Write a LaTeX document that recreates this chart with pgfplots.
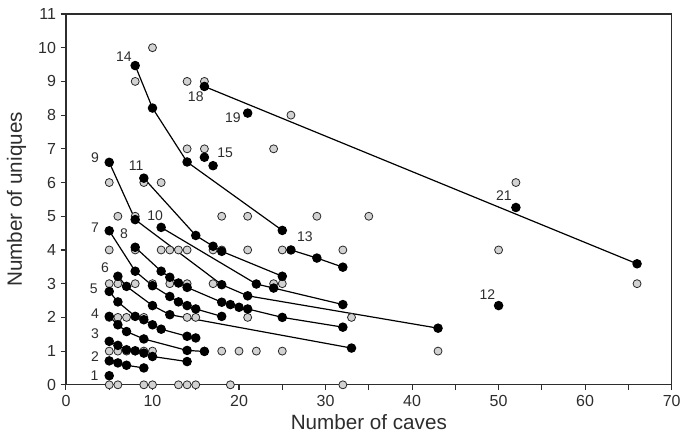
\documentclass[border=0pt]{standalone}
\usepackage{pgfplots}
\pgfplotsset{compat=1.18}
\usepackage{fontspec}
\setmainfont{Liberation Sans}
\definecolor{ptgray}{RGB}{210,210,210}
\definecolor{ptedge}{RGB}{40,40,40}
\definecolor{axgray}{RGB}{45,45,45}
\tikzset{lbl/.style={font=\fontsize{10.5}{10.5}\selectfont, text=axgray}}
\begin{document}
\begin{tikzpicture}
\begin{axis}[
    scale only axis,
    width=454.5pt, height=278.25pt,
    xmin=0, xmax=70, ymin=0, ymax=11,
    xtick={0,10,...,70}, minor xtick={5,15,...,65},
    ytick={0,1,...,11},
    tick align=outside, tick pos=left,
    major tick length=4pt, minor tick length=4pt,
    every tick/.style={axgray, line width=0.8pt},
    axis line style={axgray, line width=1pt},
    ticklabel style={font=\fontsize{12}{12}\selectfont, text=axgray},
    /pgf/number format/assume math mode=true,
    xlabel={Number of caves}, ylabel={Number of uniques},
    label style={font=\fontsize{15.5}{15.5}\selectfont, text=axgray},
    xlabel style={at={(axis description cs:0.5,0)}, anchor=center, yshift=-28pt},
    ylabel style={at={(axis description cs:0,0.5)}, anchor=center, rotate=0, yshift=37pt},
    clip=false,
    curve/.style={black, line width=0.9pt, mark=*, mark size=3.1pt, mark options={fill=black, draw=black}},
]
% grey points
\addplot[only marks, mark=*, mark size=3pt, mark options={fill=ptgray, draw=ptedge, line width=0.6pt}] coordinates {
 (5,0) (6,0) (9,0) (10,0) (13,0) (14,0) (15,0) (19,0) (32,0)
 (5,1) (6,1) (7,1) (8,1) (9,1) (10,1) (16,1) (18,1) (20,1) (22,1) (25,1) (43,1)
 (5,2) (6,2) (7,2) (9,2) (14,2) (15,2) (21,2) (33,2)
 (5,3) (6,3) (8,3) (10,3) (12,3) (14,3) (17,3) (24,3) (25,3) (66,3)
 (5,4) (8,4) (11,4) (12,4) (13,4) (14,4) (17,4) (18,4) (21,4) (25,4) (32,4) (50,4)
 (6,5) (8,5) (18,5) (21,5) (29,5) (35,5)
 (5,6) (9,6) (11,6) (52,6)
 (14,7) (16,7) (24,7)
 (26,8)
 (8,9) (14,9) (16,9)
 (10,10)
};
% black curves
\addplot[curve] coordinates {(5,0.27)};
\addplot[curve] coordinates {(5,0.71) (6,0.65) (7,0.58) (9,0.5)};
\addplot[curve] coordinates {(5,1.29) (6,1.17) (7,1.04) (8,1.01) (9,0.94) (10,0.84) (14,0.69)};
\addplot[curve] coordinates {(5,2.03) (6,1.78) (7,1.58) (9,1.36) (14,1.02) (16,0.99)};
\addplot[curve] coordinates {(5,2.77) (6,2.46) (8,2.03) (9,1.93) (10,1.78) (11,1.65) (14,1.44) (15,1.39)};
\addplot[curve] coordinates {(6,3.22) (7,2.92) (10,2.35) (12,2.08) (33,1.09)};
\addplot[curve] coordinates {(5,4.57) (8,3.37) (10,2.94) (12,2.62) (13,2.46) (14,2.35) (15,2.25) (18,2.03)};
\addplot[curve] coordinates {(8,4.08) (11,3.37) (12,3.19) (13,3.02) (14,2.89) (18,2.45) (19,2.38) (20,2.30) (21,2.25) (25,2.0) (32,1.71)};
\addplot[curve] coordinates {(5,6.6) (8,4.9) (18,2.97) (21,2.64) (43,1.68)};
\addplot[curve] coordinates {(11,4.67) (22,2.99) (24,2.87) (32,2.38)};
\addplot[curve] coordinates {(9,6.13) (15,4.43) (17,4.11) (18,3.96) (25,3.22)};
\addplot[curve] coordinates {(50,2.35)};
\addplot[curve] coordinates {(26,4.0) (29,3.76) (32,3.49)};
\addplot[curve] coordinates {(8,9.47) (10,8.21) (14,6.61) (25,4.58)};
\addplot[curve, only marks] coordinates {(16,6.75) (17,6.5)};
\addplot[curve] coordinates {(16,8.85) (66,3.59)};
\addplot[curve] coordinates {(21,8.06)};
\addplot[curve] coordinates {(52,5.26)};
% curve numbers
\node[lbl] at (axis cs:3.3,0.28) {1};
\node[lbl] at (axis cs:3.35,0.84) {2};
\node[lbl] at (axis cs:3.35,1.51) {3};
\node[lbl] at (axis cs:3.35,2.1) {4};
\node[lbl] at (axis cs:3.2,2.84) {5};
\node[lbl] at (axis cs:4.5,3.48) {6};
\node[lbl] at (axis cs:3.35,4.65) {7};
\node[lbl] at (axis cs:6.7,4.47) {8};
\node[lbl] at (axis cs:3.35,6.73) {9};
\node[lbl] at (axis cs:10.3,5.01) {10};
\node[lbl] at (axis cs:8.1,6.5) {11};
\node[lbl] at (axis cs:48.7,2.69) {12};
\node[lbl] at (axis cs:27.6,4.38) {13};
\node[lbl] at (axis cs:6.7,9.72) {14};
\node[lbl] at (axis cs:18.4,6.87) {15};
\node[lbl] at (axis cs:15.0,8.54) {18};
\node[lbl] at (axis cs:19.3,7.91) {19};
\node[lbl] at (axis cs:50.6,5.62) {21};
\end{axis}
\path ([xshift=-49.5pt,yshift=-42.75pt]current axis.south west) rectangle ([xshift=9.75pt,yshift=10.5pt]current axis.north east);
\end{tikzpicture}
\end{document}
